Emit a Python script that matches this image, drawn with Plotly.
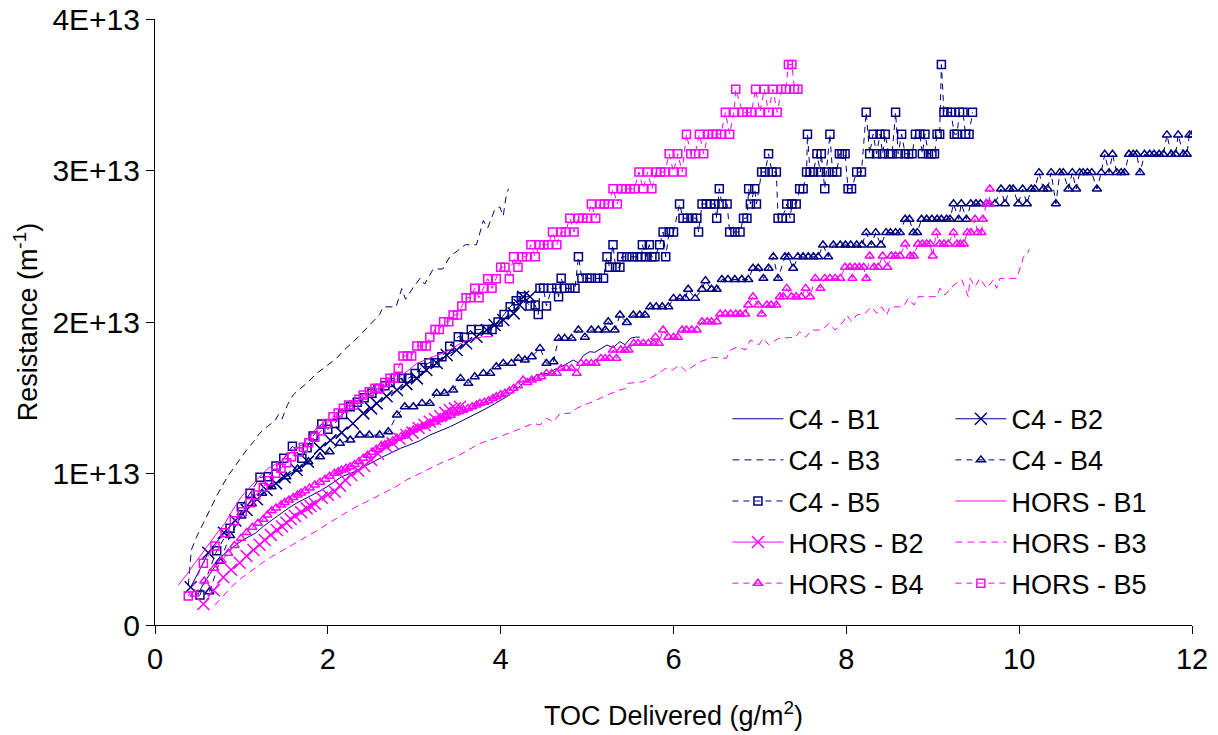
import plotly.graph_objects as go

NAVY = "#000080"
MAGENTA = "#FF00FF"
FONT = "Liberation Sans, Arial, sans-serif"
E13 = 1e13

# (TOC delivered g/m2, resistance in units of 1E+13 m-1)
c4_b1 = [(0.50,0.205),(0.57,0.28),(0.64,0.341),(0.71,0.40),(0.77,0.451),(0.87,0.50),(0.96,0.539),
         (1.06,0.575),(1.16,0.605),(1.25,0.65),(1.35,0.693),(1.44,0.73),(1.54,0.77),(1.64,0.805),
         (1.74,0.836),(1.83,0.865),(1.93,0.891),(2.05,0.935),(2.16,0.979),(2.31,1.012),(2.45,1.056),
         (2.55,1.085),(2.64,1.111),(2.74,1.138),(2.84,1.166),(2.95,1.19),(3.06,1.215),(3.18,1.254),
         (3.30,1.28),(3.42,1.31),(3.57,1.353),(3.69,1.385),(3.80,1.419),(3.93,1.46),(4.07,1.507),
         (4.17,1.55),(4.26,1.595),(4.35,1.62),(4.42,1.65),(4.50,1.66),(4.57,1.66),(4.61,1.683),
         (4.72,1.71),(4.84,1.749),(4.90,1.73),(4.96,1.78),(5.03,1.804),(5.09,1.80),(5.15,1.82),
         (5.23,1.848),(5.30,1.83),(5.38,1.87),(5.44,1.85),(5.50,1.892),(5.56,1.90),(5.61,1.90)]

c4_b2 = [(0.413,0.249),(0.617,0.477),(0.798,0.609),(0.93,0.69),(1.06,0.759),(1.18,0.83),(1.29,0.891),
         (1.40,0.935),(1.50,0.975),(1.64,1.023),(1.77,1.078),(1.91,1.166),(2.03,1.22),(2.16,1.27),
         (2.29,1.33),(2.41,1.397),(2.50,1.43),(2.565,1.463),(2.68,1.51),(2.80,1.551),(2.91,1.59),
         (3.03,1.628),(3.14,1.683),(3.26,1.73),(3.375,1.782),(3.49,1.815),(3.60,1.86),(3.72,1.903),
         (3.84,1.947),(3.93,1.98),(4.03,2.013),(4.15,2.057),(4.22,2.112),(4.26,2.167),(4.34,2.167)]

c4_b3 = [(0.385,0.26),(0.42,0.495),(0.48,0.58),(0.54,0.65),(0.63,0.76),(0.73,0.87),(0.84,0.98),
         (0.96,1.08),(1.06,1.155),(1.14,1.21),(1.21,1.265),(1.30,1.31),(1.39,1.35),(1.43,1.39),
         (1.47,1.36),(1.53,1.45),(1.60,1.52),(1.68,1.56),(1.755,1.595),(1.87,1.66),(1.95,1.695),
         (2.03,1.73),(2.10,1.76),(2.18,1.81),(2.26,1.85),(2.35,1.90),(2.45,1.96),(2.53,2.01),
         (2.60,2.05),(2.64,2.10),(2.79,2.10),(2.855,2.22),(2.90,2.15),(2.99,2.23),(3.07,2.29),
         (3.12,2.25),(3.22,2.35),(3.33,2.35),(3.41,2.43),(3.50,2.47),(3.59,2.51),(3.72,2.51),
         (3.76,2.60),(3.80,2.67),(3.85,2.62),(3.93,2.74),(3.99,2.76),(4.03,2.70),(4.06,2.82),(4.09,2.88)]

c4_b4 = [(0.63,0.22),(0.75,0.42),(0.87,0.59),(1.0,0.72),(1.12,0.80),(1.24,0.87),(1.35,0.913),
         (1.52,0.979),(1.65,1.03),(1.775,1.078),(1.91,1.111),(2.02,1.144),(2.14,1.199),(2.26,1.221),
         (2.37,1.254),(2.48,1.254),(2.60,1.254),(2.70,1.276),(2.80,1.386),(2.89,1.441),(2.99,1.441),
         (3.09,1.463),(3.18,1.463),(3.26,1.53),(3.35,1.53),(3.45,1.551),(3.535,1.628),(3.625,1.595),
         (3.70,1.639),(3.80,1.661),(3.88,1.661),(3.95,1.705),(4.03,1.727),(4.125,1.727),(4.205,1.76),
         (4.28,1.749),(4.36,1.771),(4.455,1.826),(4.53,1.727),(4.61,1.738),(4.67,1.892),(4.74,1.892),
         (4.82,1.892),(4.90,1.947),(4.975,1.90),(5.05,1.947),(5.13,1.947),(5.21,1.947),(5.245,2.002),
         (5.32,1.947),(5.38,2.046),(5.46,1.997),(5.535,2.046),(5.61,2.046),(5.67,2.046),(5.73,2.10),
         (5.80,2.10),(5.87,2.10),(5.94,2.10),(6.0,2.156),(6.075,2.156),(6.135,2.156),(6.17,2.216),
         (6.25,2.156),(6.33,2.216),(6.37,2.273),(6.44,2.216),(6.50,2.216),(6.56,2.28),(6.63,2.28),
         (6.71,2.28),(6.79,2.28),(6.865,2.28),(6.92,2.355),(6.98,2.355),(7.04,2.288),(7.10,2.355),
         (7.155,2.43),(7.21,2.288),(7.29,2.43),(7.33,2.43),(7.385,2.355),(7.44,2.43),(7.50,2.43),
         (7.56,2.43),(7.62,2.43),(7.675,2.43),(7.73,2.508),(7.79,2.43),(7.85,2.508),(7.93,2.508),
         (7.99,2.508),(8.05,2.508),(8.12,2.508),(8.18,2.508),(8.23,2.59),(8.29,2.508),(8.34,2.59),
         (8.40,2.508),(8.46,2.59),(8.51,2.59),(8.57,2.59),(8.62,2.59),(8.68,2.678),(8.73,2.678),
         (8.775,2.59),(8.82,2.59),(8.87,2.678),(8.93,2.678),(8.99,2.678),(9.05,2.678),(9.10,2.678),
         (9.16,2.678),(9.20,2.678),(9.24,2.78),(9.30,2.678),(9.33,2.78),(9.39,2.678),(9.44,2.78),
         (9.50,2.78),(9.55,2.78),(9.62,2.78),(9.72,2.78),(9.79,2.878),(9.835,2.78),(9.89,2.878),
         (9.93,2.878),(9.99,2.78),(10.04,2.878),(10.09,2.78),(10.14,2.878),(10.18,2.878),(10.23,2.986),
         (10.28,2.878),(10.33,2.878),(10.37,2.986),(10.425,2.78),(10.47,2.986),(10.51,2.986),
         (10.57,2.878),(10.615,2.986),(10.66,2.878),(10.70,2.986),(10.74,2.986),(10.79,2.986),
         (10.84,2.986),(10.90,2.878),(10.95,2.986),(10.99,3.107),(11.04,2.986),(11.08,3.107),
         (11.13,2.986),(11.18,2.986),(11.22,2.986),(11.27,3.107),(11.32,3.107),(11.36,3.107),
         (11.40,2.986),(11.45,3.107),(11.51,3.107),(11.56,3.107),(11.62,3.107),(11.67,3.107),
         (11.71,3.235),(11.76,3.107),(11.81,3.107),(11.84,3.235),(11.90,3.107),(11.94,3.107),
         (11.97,3.235),(12.0,3.235)]

c4_b5 = [(0.52,0.198),(0.714,0.49),(0.868,0.638),(0.999,0.781),(1.10,0.87),(1.215,0.975),(1.31,0.979),
         (1.40,1.05),(1.49,1.10),(1.59,1.18),(1.70,1.10),(1.76,1.17),(1.83,1.248),(1.93,1.327),
         (2.0,1.292),(2.08,1.33),(2.17,1.39),(2.26,1.441),(2.34,1.47),(2.42,1.50),(2.51,1.53),
         (2.58,1.56),(2.66,1.58),(2.72,1.60),(2.78,1.628),(2.855,1.628),(2.93,1.628),(3.01,1.66),
         (3.09,1.70),(3.17,1.731),(3.24,1.731),(3.32,1.77),(3.41,1.84),(3.51,1.903),(3.58,1.90),
         (3.66,1.95),(3.75,1.95),(3.84,1.95),(3.90,1.95),(3.97,2.0),(4.04,2.05),(4.11,2.10),
         (4.18,2.14),(4.24,2.167),(4.34,2.106),(4.40,2.112),(4.435,2.05),(4.455,2.222),(4.495,2.222),
         (4.53,2.106),(4.59,2.222),(4.65,2.222),(4.67,2.167),(4.70,2.288),(4.74,2.222),(4.80,2.222),
         (4.86,2.222),(4.90,2.43),(4.94,2.288),(5.00,2.288),(5.05,2.288),(5.12,2.288),(5.19,2.288),
         (5.23,2.43),(5.26,2.361),(5.30,2.51),(5.33,2.361),(5.38,2.361),(5.40,2.43),(5.46,2.43),
         (5.52,2.43),(5.58,2.43),(5.63,2.43),(5.64,2.51),(5.68,2.43),(5.72,2.51),(5.75,2.43),
         (5.785,2.43),(5.84,2.51),(5.88,2.594),(5.91,2.43),(5.95,2.594),(6.0,2.594),(6.07,2.779),
         (6.11,2.685),(6.16,2.685),(6.22,2.685),(6.27,2.685),(6.29,2.594),(6.33,2.779),(6.38,2.779),
         (6.43,2.779),(6.48,2.779),(6.50,2.685),(6.53,2.88),(6.56,2.779),(6.62,2.779),(6.65,2.594),
         (6.71,2.594),(6.77,2.594),(6.81,2.685),(6.85,2.685),(6.87,2.88),(6.89,2.779),(6.94,2.88),
         (6.96,2.779),(7.02,2.99),(7.06,2.99),(7.10,3.11),(7.14,2.99),(7.19,2.99),(7.21,2.685),
         (7.26,2.685),(7.31,2.779),(7.35,2.685),(7.37,2.779),(7.42,2.779),(7.46,2.88),(7.50,2.88),
         (7.54,2.99),(7.55,3.24),(7.58,2.99),(7.62,2.99),(7.66,3.11),(7.70,2.99),(7.71,3.11),
         (7.75,2.88),(7.77,2.99),(7.81,3.24),(7.84,2.99),(7.89,2.99),(7.92,3.11),(7.95,3.11),
         (7.985,3.11),(8.02,2.88),(8.06,2.88),(8.12,2.99),(8.175,2.99),(8.23,3.384),(8.27,3.11),
         (8.31,3.24),(8.35,3.11),(8.39,3.24),(8.42,3.11),(8.45,3.24),(8.49,3.11),(8.53,3.11),
         (8.57,3.384),(8.60,3.11),(8.64,3.24),(8.68,3.11),(8.72,3.11),(8.76,3.11),(8.80,3.24),
         (8.85,3.24),(8.88,3.11),(8.91,3.24),(8.95,3.11),(8.99,3.11),(9.02,3.11),(9.05,3.24),
         (9.08,3.24),(9.10,3.70),(9.13,3.384),(9.17,3.384),(9.21,3.384),(9.25,3.24),(9.28,3.24),
         (9.31,3.384),(9.35,3.384),(9.38,3.24),(9.42,3.24),(9.46,3.384)]

hors_b1 = [(0.27,0.264),(0.37,0.335),(0.46,0.407),(0.56,0.485),(0.656,0.561),(0.73,0.616),(0.81,0.671),
           (0.90,0.76),(1.0,0.847),(1.08,0.90),(1.157,0.946),(1.23,0.99),(1.31,1.034),(1.39,1.06),
           (1.466,1.089),(1.58,1.144),(1.70,1.188),(1.78,1.24),(1.87,1.30),(1.96,1.34),(2.05,1.36),
           (2.14,1.375),(2.26,1.463),(2.35,1.48),(2.45,1.507),(2.55,1.54),(2.64,1.573),(2.74,1.60),
           (2.835,1.639),(2.93,1.68),(3.03,1.727),(3.12,1.75),(3.22,1.771),(3.31,1.79),(3.41,1.815),
           (3.51,1.85),(3.61,1.881),(3.70,1.89),(3.80,1.903),(3.91,1.903)]

hors_b2 = [(0.56,0.139),(0.68,0.23),(0.79,0.315),(0.88,0.365),(0.98,0.411),(1.06,0.455),(1.14,0.495),
           (1.21,0.53),(1.27,0.561),(1.34,0.595),(1.41,0.627),(1.47,0.65),(1.52,0.675),(1.57,0.70),
           (1.62,0.72),(1.69,0.745),(1.755,0.77),(1.80,0.785),(1.85,0.80),(1.93,0.84),(2.00,0.86),
           (2.08,0.88),(2.14,0.92),(2.20,0.957),(2.27,0.99),(2.35,1.02),(2.42,1.05),(2.50,1.09),
           (2.58,1.13),(2.68,1.177),(2.75,1.20),(2.83,1.23),(2.91,1.254),(2.98,1.27),(3.05,1.30),
           (3.12,1.32),(3.18,1.342),(3.24,1.36),(3.30,1.38),(3.36,1.40),(3.41,1.419),(3.47,1.43),
           (3.53,1.441)]

hors_b3 = [(0.694,0.132),(0.79,0.195),(0.887,0.253),(1.0,0.31),(1.12,0.363),(1.24,0.41),(1.35,0.451),
           (1.49,0.495),(1.62,0.539),(1.75,0.583),(1.89,0.627),(2.02,0.676),(2.16,0.726),(2.31,0.775),
           (2.47,0.82),(2.64,0.869),(2.78,0.91),(2.91,0.957),(3.06,1.00),(3.22,1.045),(3.35,1.08),
           (3.49,1.111),(3.62,1.155),(3.76,1.199),(3.88,1.22),(3.99,1.243),(4.19,1.287),(4.38,1.331),
           (4.455,1.32),(4.53,1.364),(4.61,1.342),(4.69,1.397),(4.80,1.397),(4.88,1.43),(4.96,1.452),
           (5.07,1.474),(5.23,1.518),(5.38,1.551),(5.44,1.56),(5.47,1.595),(5.55,1.60),(5.65,1.606),
           (5.80,1.65),(5.91,1.694),(5.99,1.683),(6.07,1.716),(6.15,1.672),(6.19,1.694),(6.31,1.738),
           (6.46,1.767),(6.61,1.76),(6.66,1.815),(6.75,1.837),(6.83,1.815),(6.89,1.881),(6.99,1.85),
           (7.04,1.892),(7.10,1.85),(7.215,1.892),(7.41,1.90),(7.46,1.936),(7.53,1.90),(7.60,1.947),
           (7.72,1.947),(7.80,1.991),(7.87,1.947),(7.965,2.002),(8.004,2.046),(8.062,2.002),
           (8.12,2.046),(8.216,2.057),(8.293,2.10),(8.351,2.057),(8.409,2.10),(8.467,2.046),
           (8.505,2.10),(8.659,2.10),(8.717,2.156),(8.783,2.112),(8.833,2.167),(9.045,2.167),
           (9.083,2.222),(9.141,2.178),(9.219,2.233),(9.335,2.28),(9.411,2.167),(9.431,2.288),
           (9.489,2.233),(9.546,2.288),(9.624,2.222),(9.70,2.277),(9.74,2.222),(9.778,2.288),
           (9.971,2.288),(10.029,2.387),(10.048,2.43),(10.087,2.44),(10.117,2.48)]

hors_b4 = [(0.46,0.205),(0.57,0.29),(0.686,0.374),(0.77,0.425),(0.848,0.473),(0.92,0.525),(0.995,0.572),
           (1.06,0.61),(1.126,0.645),(1.19,0.672),(1.253,0.698),(1.30,0.726),(1.35,0.754),(1.40,0.773),
           (1.458,0.792),(1.50,0.808),(1.55,0.825),(1.60,0.842),(1.65,0.858),(1.69,0.872),(1.736,0.886),
           (1.79,0.905),(1.85,0.924),(1.91,0.943),(1.967,0.962),(2.02,0.982),(2.075,1.001),(2.12,1.012),
           (2.16,1.023),(2.21,1.034),(2.26,1.045),(2.31,1.06),(2.36,1.08),(2.41,1.10),(2.46,1.12),
           (2.51,1.14),(2.56,1.16),(2.61,1.177),(2.66,1.19),(2.70,1.199),(2.75,1.215),(2.80,1.232),
           (2.85,1.245),(2.90,1.26),(2.95,1.275),(2.99,1.287),(3.04,1.30),(3.09,1.31),(3.14,1.32),
           (3.18,1.331),(3.23,1.34),(3.28,1.355),(3.33,1.365),(3.375,1.375),(3.42,1.385),(3.47,1.40),
           (3.52,1.41),(3.57,1.419),(3.62,1.43),(3.67,1.44),(3.72,1.452),(3.76,1.463),(3.81,1.47),
           (3.86,1.48),(3.91,1.495),(3.95,1.507),(4.00,1.52),(4.05,1.53),(4.10,1.545),(4.15,1.562),
           (4.20,1.58),(4.26,1.617),(4.31,1.60),(4.36,1.617),(4.42,1.628),(4.47,1.639),(4.53,1.661),
           (4.59,1.661),(4.65,1.661),(4.70,1.694),(4.76,1.694),(4.82,1.694),(4.88,1.661),(4.93,1.727),
           (4.99,1.727),(5.05,1.727),(5.10,1.727),(5.16,1.76),(5.21,1.76),(5.26,1.76),(5.30,1.815),
           (5.34,1.76),(5.39,1.815),(5.44,1.815),(5.48,1.815),(5.54,1.859),(5.59,1.859),(5.65,1.859),
           (5.71,1.859),(5.77,1.859),(5.79,1.90),(5.83,1.859),(5.88,1.947),(5.94,1.90),(6.00,1.90),
           (6.05,1.90),(6.10,1.947),(6.15,1.947),(6.21,1.947),(6.27,1.947),(6.33,2.002),(6.39,2.002),
           (6.44,2.002),(6.50,2.002),(6.54,2.053),(6.60,2.053),(6.66,2.053),(6.72,2.053),(6.77,2.053),
           (6.83,2.053),(6.865,2.112),(6.92,2.167),(6.98,2.112),(7.02,2.053),(7.08,2.112),(7.13,2.112),
           (7.19,2.112),(7.23,2.167),(7.27,2.167),(7.31,2.222),(7.365,2.167),(7.42,2.167),(7.48,2.167),
           (7.53,2.222),(7.58,2.167),(7.64,2.288),(7.70,2.222),(7.75,2.288),(7.81,2.288),(7.87,2.288),
           (7.93,2.288),(7.985,2.361),(8.04,2.361),(8.07,2.288),(8.10,2.361),(8.15,2.361),(8.20,2.361),
           (8.23,2.288),(8.27,2.436),(8.32,2.361),(8.37,2.361),(8.42,2.436),(8.475,2.361),(8.52,2.436),
           (8.57,2.436),(8.62,2.436),(8.68,2.515),(8.74,2.436),(8.78,2.436),(8.83,2.515),(8.88,2.515),
           (8.93,2.515),(8.97,2.515),(9.0,2.436),(9.04,2.59),(9.08,2.515),(9.13,2.515),(9.18,2.515),
           (9.24,2.59),(9.28,2.515),(9.32,2.515),(9.36,2.515),(9.40,2.59),(9.44,2.59),(9.49,2.678),
           (9.52,2.59),(9.565,2.59),(9.58,2.678),(9.62,2.78),(9.655,2.78),(9.66,2.878)]

hors_b5 = [(0.385,0.191),(0.56,0.407),(0.694,0.521),(0.81,0.609),(0.918,0.688),(1.01,0.748),(1.10,0.807),
           (1.165,0.858),(1.253,0.909),(1.32,0.952),(1.397,1.001),(1.458,1.034),(1.524,1.071),(1.58,1.111),
           (1.66,1.144),(1.717,1.173),(1.78,1.203),(1.85,1.24),(1.92,1.28),(1.99,1.33),(2.06,1.375),
           (2.12,1.40),(2.18,1.43),(2.24,1.452),(2.30,1.452),(2.36,1.49),(2.41,1.518),(2.48,1.54),
           (2.545,1.562),(2.60,1.562),(2.66,1.60),(2.72,1.628),(2.77,1.628),(2.815,1.694),(2.87,1.776),
           (2.92,1.776),(2.97,1.776),(3.03,1.842),(3.09,1.842),(3.14,1.842),(3.18,1.90),(3.24,1.95),
           (3.29,1.95),(3.34,2.002),(3.40,2.002),(3.45,2.046),(3.50,2.046),(3.55,2.106),(3.60,2.16),
           (3.65,2.16),(3.70,2.222),(3.75,2.16),(3.80,2.222),(3.85,2.286),(3.90,2.222),(3.95,2.286),
           (4.00,2.361),(4.05,2.361),(4.10,2.286),(4.15,2.43),(4.20,2.361),(4.25,2.43),(4.30,2.43),
           (4.35,2.51),(4.40,2.43),(4.45,2.51),(4.50,2.51),(4.55,2.51),(4.60,2.594),(4.65,2.51),
           (4.70,2.594),(4.75,2.594),(4.80,2.685),(4.85,2.594),(4.90,2.685),(4.95,2.685),(5.00,2.685),
           (5.05,2.779),(5.10,2.685),(5.15,2.779),(5.20,2.779),(5.25,2.779),(5.30,2.88),(5.35,2.779),
           (5.40,2.88),(5.45,2.88),(5.50,2.88),(5.55,2.88),(5.60,2.99),(5.65,2.88),(5.70,2.99),
           (5.75,2.88),(5.80,2.99),(5.85,2.99),(5.90,2.99),(5.95,3.11),(6.00,2.99),(6.05,3.11),
           (6.10,2.99),(6.15,3.24),(6.20,3.11),(6.25,3.11),(6.30,3.24),(6.35,3.11),(6.40,3.24),
           (6.45,3.24),(6.50,3.24),(6.55,3.24),(6.60,3.384),(6.65,3.24),(6.70,3.384),(6.72,3.536),
           (6.80,3.384),(6.85,3.384),(6.90,3.384),(6.95,3.536),(7.00,3.384),(7.05,3.536),(7.10,3.384),
           (7.15,3.536),(7.20,3.384),(7.25,3.536),(7.30,3.536),(7.33,3.70),(7.37,3.70),(7.40,3.536),
           (7.44,3.536)]

x_ticks = [0, 2, 4, 6, 8, 10, 12]
y_ticks = [0, 1, 2, 3, 4]
y_tick_labels = ["0", "1E+13", "2E+13", "3E+13", "4E+13"]

# name, points, colour, dash, marker symbol, marker size, legend column
series = [
    ("C4 - B1", c4_b1, NAVY, "solid", None, 0, "legend"),
    ("C4 - B2", c4_b2, NAVY, "solid", "x-thin", 12, "legend2"),
    ("C4 - B3", c4_b3, NAVY, "7px,5px", None, 0, "legend"),
    ("C4 - B4", c4_b4, NAVY, "6px,5px", "triangle-up-open", 8, "legend2"),
    ("C4 - B5", c4_b5, NAVY, "6px,5px", "square-open", 8, "legend"),
    ("HORS - B1", hors_b1, MAGENTA, "solid", None, 0, "legend2"),
    ("HORS - B2", hors_b2, MAGENTA, "solid", "x-thin", 12, "legend"),
    ("HORS - B3", hors_b3, MAGENTA, "7px,5px", None, 0, "legend2"),
    ("HORS - B4", hors_b4, MAGENTA, "6px,5px", "triangle-up-open", 8, "legend"),
    ("HORS - B5", hors_b5, MAGENTA, "6px,5px", "square-open", 8, "legend2"),
]

fig = go.Figure()
for name, pts, color, dash, symbol, msize, leg in series:
    xs = [p[0] for p in pts]
    ys = [p[1] * E13 for p in pts]
    kw = dict(
        x=xs, y=ys, name=name, legend=leg, legendgroup=name,
        line=dict(color=color, width=1, dash=dash),
    )
    if symbol:
        kw["mode"] = "lines+markers"
        kw["marker"] = dict(symbol=symbol, size=msize, color=color,
                            line=dict(color=color, width=1.5))
    else:
        kw["mode"] = "lines"
    fig.add_trace(go.Scatter(**kw))

legend_common = dict(
    font=dict(family=FONT, size=27, color="black"),
    bgcolor="rgba(0,0,0,0)", borderwidth=0,
    traceorder="grouped", tracegroupgap=3, itemwidth=51,
    xanchor="left", yanchor="top", orientation="v",
)

fig.update_layout(
    width=1218, height=735, autosize=False,
    margin=dict(l=155, r=26, t=19, b=110),
    paper_bgcolor="white", plot_bgcolor="white",
    font=dict(family=FONT, size=27, color="black"),
    legend=dict(x=0.552, y=0.38, **legend_common),
    legend2=dict(x=0.767, y=0.38, **legend_common),
    xaxis=dict(
        range=[0, 12], tickvals=x_ticks, ticks="outside", ticklen=8, tickcolor="black",
        showline=True, linecolor="black", linewidth=1, showgrid=False, zeroline=False,
        automargin=False,
        tickfont=dict(family=FONT, size=29),
        title=dict(text="TOC Delivered (g/m<sup>2</sup>)", font=dict(family=FONT, size=27), standoff=32),
    ),
    yaxis=dict(
        range=[0, 4 * E13], tickvals=[v * E13 for v in y_ticks], ticktext=y_tick_labels,
        ticks="outside", ticklen=8, tickcolor="black",
        showline=True, linecolor="black", linewidth=1, showgrid=False, zeroline=False,
        automargin=False,
        tickfont=dict(family=FONT, size=30),
        title=dict(text="Resistance (m<sup>-1</sup>)", font=dict(family=FONT, size=27), standoff=6),
    ),
)

fig.write_html("out.html")
